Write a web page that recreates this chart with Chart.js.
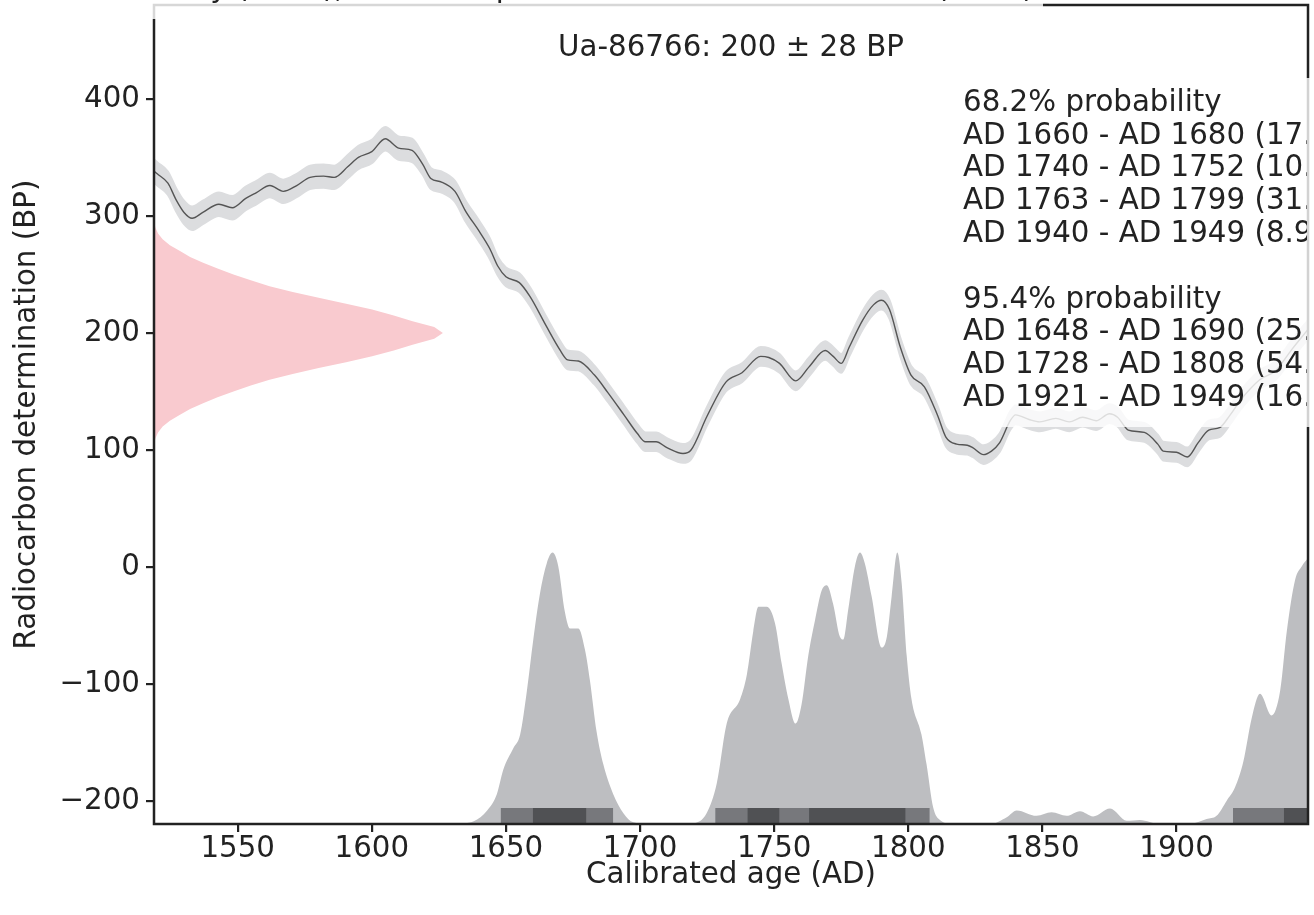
<!DOCTYPE html>
<html lang="en">
<head>
<meta charset="UTF-8">
<title>Ua-86766 calibration</title>
<style>
  html, body { margin: 0; padding: 0; background: #fff; }
  #chart { display: block; }
</style>
</head>
<body>
<canvas id="chart" width="1314" height="915"></canvas>
<script src="https://cdn.jsdelivr.net/npm/chart.js@4"></script>
<script>
// calibration curve section (cal AD vs 14C BP)
var curveYears = [1519,1520,1524,1527,1530,1533,1537,1543,1548,1553,1557,1562,1567,1572,1577,1582,1586,1591,1595,1600,
  1605,1610,1615,1619,1622,1626,1631,1635,1640,1644,1647,1650,1655,1659,1665,1670,1673,1677,1683,1688,
  1694,1699,1702,1706,1710,1716,1719,1725,1732,1738,1745,1748,1752,1758,1763,1769,1772,1775,1778,1783,
  1787,1790,1793,1797,1801,1806,1811,1814,1818,1822,1824,1828,1831,1834,1838,1840,1845,1849,1855,1860,
  1865,1870,1875,1878,1882,1888,1893,1895,1900,1904,1908,1912,1916,1920,1924,1931,1937,1943,1949];
var curveBP = [338,336,328,314,303,298,303,310,307,315,320,326,321,326,333,334,333,342,350,355,
  366,358,356,344,332,329,321,304,287,272,257,248,243,231,206,186,177,176,164,149,
  130,114,107,107,102,97,100,129,158,166,180,179,174,159,171,185,180,174,188,211,
  224,228,220,188,164,154,129,111,105,104,102,96,99,106,125,130,126,124,127,124,
  128,125,131,128,117,115,105,99,98,94,106,117,119,130,143,160,168,186,203];
var curveErr = [10,10,10,10,10,10,10,10,10,10,10,10,10,10,10,10,10,10,10,10,
  10,10,10,9,9,9,9,9,9,9,8,8,8,8,8,8,8,8,8,8,
  8,8,8,8,8,8,8,8,8,8,8,8,8,8,8,8,8,8,8,8,
  8,8,8,8,8,8,8,8,8,8,8,8,8,8,8,8,8,8,8,8,
  8,8,8,8,8,8,8,8,8,8,8,8,8,8,8,8,8,8,8];

// measured date 200 +/- 28 BP, relative density
var dateBP = [104,110,115,120,125,130,135,140,145,150,155,160,165,170,175,180,185,190,195,200,
  205,210,215,220,225,230,235,240,245,250,255,260,265,270,275,280,285,290,296];
var dateP = [0,0.005,0.014,0.03,0.055,0.09,0.125,0.17,0.22,0.275,0.335,0.40,0.48,0.57,0.665,0.755,0.83,0.895,0.97,1,
  0.97,0.895,0.83,0.755,0.665,0.57,0.48,0.40,0.335,0.275,0.22,0.17,0.125,0.09,0.055,0.03,0.014,0.005,0];

// calibrated age distribution, relative to its peak
var probYears = [1519,1630,1634,1638,1643,1646.6,1649,1652.8,1655.3,1657.8,1660.2,1662.7,1665.2,1667.4,1669.5,
  1672,1673.9,1677,1679.5,1681.3,1683.8,1686.3,1690,1693.8,1697.5,1702,1710,1716,1720,1724.8,
  1728.6,1732.3,1737.3,1739.8,1742.2,1744.1,1747.2,1750.3,1752.8,1755.3,1758,1760.2,1762.7,1765.2,1767.7,
  1769.6,1772,1774.5,1775.8,1777.6,1780.1,1782,1783.8,1786.3,1790.1,1792,1793.8,1795.9,1797.5,1799.4,
  1801.2,1804.9,1806.8,1809.3,1811.8,1816.7,1830.5,1836.7,1840.4,1847.8,1853.4,1859,1864,1868.9,1875.2,
  1881.4,1886.3,1893.8,1905,1911.2,1914.9,1918.7,1921.8,1924.9,1928,1931.1,1935.4,1938.6,1941.1,1944.2,
  1946.7,1949];
var probP = [0,0,0.002,0.01,0.05,0.11,0.20,0.28,0.33,0.49,0.68,0.85,0.96,1.0,0.95,
  0.78,0.72,0.72,0.64,0.53,0.34,0.22,0.11,0.04,0.006,0.002,0.002,0,0.003,0.04,
  0.15,0.37,0.46,0.55,0.71,0.80,0.80,0.74,0.59,0.46,0.37,0.44,0.62,0.75,0.86,
  0.88,0.81,0.69,0.68,0.79,0.95,1.0,0.96,0.84,0.65,0.69,0.84,1.0,0.89,0.62,
  0.46,0.33,0.22,0.06,0.015,0,0,0.025,0.05,0.03,0.043,0.03,0.047,0.028,0.057,
  0.012,0.015,0,0,0.018,0.03,0.086,0.135,0.23,0.39,0.48,0.40,0.49,0.71,0.90,
  0.95,0.98];

// highest probability ranges
var ranges68 = [[1660,1680],[1740,1752],[1763,1799],[1940,1949]];
var ranges95 = [[1648,1690],[1728,1808],[1921,1949]];
var rangeLines = ['68.2% probability', 'AD 1660 - AD 1680 (17.', 'AD 1740 - AD 1752 (10.',
  'AD 1763 - AD 1799 (31.', 'AD 1940 - AD 1949 (8.9', '', '95.4% probability',
  'AD 1648 - AD 1690 (25.', 'AD 1728 - AD 1808 (54.', 'AD 1921 - AD 1949 (16.'];

var sampleLabel = 'Ua-86766: 200 \u00b1 28 BP';
var figureTitle = 'OxCal v4.4.4 Bronk Ramsey (2021); r:5 Atmospheric data from Reimer et al (2020)';

var xTicks = [1550,1600,1650,1700,1750,1800,1850,1900];
var yTicks = [-200,-100,0,100,200,300,400];

// axis limits and how the distributions are laid on the axes
var xMin = 1518.8, xMax = 1949;
var yMin = -219.7, yMax = 480.3;
var dateWidth = 107.7;      // years at the peak of the date density
var probHeight = 232;       // BP units at the peak of the calibrated density
var barTop = -206;

var bandColor = '#dcdddf';
var fontSize = 29.3;

var calMean = curveYears.map(function (t, i) { return {x: t, y: curveBP[i]}; });
var calUp = curveYears.map(function (t, i) { return {x: t, y: curveBP[i] + curveErr[i]}; });
var calLo = curveYears.map(function (t, i) { return {x: t, y: curveBP[i] - curveErr[i]}; });
var dateData = dateBP.map(function (b, i) { return {x: xMin + dateWidth * dateP[i], y: b}; });
var probData = probYears.map(function (t, i) { return {x: t, y: yMin + probHeight * probP[i]}; });

function barSet(r, color) {
  return {
    data: [{x: r[0], y: barTop}, {x: r[1], y: barTop}],
    borderWidth: 0, pointRadius: 0, fill: 'start', backgroundColor: color
  };
}

var datasets = [
  {data: calMean, borderColor: '#555', borderWidth: 1.4, pointRadius: 0, fill: false, cubicInterpolationMode: 'monotone'},
  {data: calUp, borderColor: bandColor, borderWidth: 2, pointRadius: 0, fill: false, cubicInterpolationMode: 'monotone'},
  {data: calLo, borderColor: bandColor, borderWidth: 2, pointRadius: 0, fill: '-1', backgroundColor: bandColor, cubicInterpolationMode: 'monotone'},
  {data: dateData, indexAxis: 'y', borderWidth: 0, pointRadius: 0, fill: {value: xMin}, backgroundColor: '#f9cacf', tension: 0}
];
ranges68.forEach(function (r) { datasets.push(barSet(r, '#505154')); });
ranges95.forEach(function (r) { datasets.push(barSet(r, '#77787c')); });
datasets.push({data: probData, borderWidth: 0, pointRadius: 0, fill: 'start', backgroundColor: '#bdbec1', cubicInterpolationMode: 'monotone'});

var overlay = {
  id: 'overlay',
  afterDatasetsDraw: function (chart) {
    var a = chart.chartArea, ctx = chart.ctx;
    ctx.save();
    ctx.strokeStyle = '#222';
    ctx.lineWidth = 2.5;
    ctx.strokeRect(a.left, a.top, a.right - a.left, a.bottom - a.top);
    ctx.restore();
  },
  afterDraw: function (chart) {
    var a = chart.chartArea, ctx = chart.ctx;
    ctx.save();
    ctx.font = fontSize + 'px "DejaVu Sans"';
    // figure title box, mostly cut off above
    ctx.fillStyle = 'rgba(255,255,255,0.82)';
    ctx.fillRect(a.left - 4, 0, 893, 19);
    ctx.fillStyle = '#222';
    ctx.textAlign = 'right';
    ctx.textBaseline = 'alphabetic';
    ctx.fillText(figureTitle, 1034, -3);
    // sample name
    ctx.textAlign = 'center';
    ctx.fillText(sampleLabel, (a.left + a.right) / 2, a.top + 51);
    // ranges legend
    ctx.fillStyle = 'rgba(255,255,255,0.8)';
    ctx.fillRect(a.right - 353, 78, 360, 349);
    ctx.beginPath();
    ctx.rect(0, 0, a.right - 1, chart.height);
    ctx.clip();
    ctx.fillStyle = '#222';
    ctx.textAlign = 'left';
    rangeLines.forEach(function (t, i) {
      ctx.fillText(t, a.right - 345, 110.7 + i * 32.8);
    });
    ctx.restore();
  }
};

Chart.defaults.font.family = "'DejaVu Sans', sans-serif";
Chart.defaults.font.size = fontSize;
Chart.defaults.color = '#222';

new Chart(document.getElementById('chart'), {
  type: 'line',
  data: {datasets: datasets},
  options: {
    responsive: false,
    animation: false,
    devicePixelRatio: 1,
    layout: {padding: {top: 5, right: 6, left: 0, bottom: 0}},
    plugins: {legend: {display: false}, tooltip: {enabled: false}},
    scales: {
      x: {
        type: 'linear', min: xMin, max: xMax,
        afterBuildTicks: function (s) { s.ticks = xTicks.map(function (v) { return {value: v}; }); },
        afterFit: function (s) { s.height = 91; s.paddingLeft = 0; s.paddingRight = 0; },
        grid: {drawOnChartArea: false, drawTicks: true, tickLength: 8, lineWidth: 2.2, color: '#222'},
        border: {display: false},
        ticks: {padding: 0, maxRotation: 0, autoSkip: false, color: '#222', callback: function (v) { return String(v); }},
        title: {display: true, text: 'Calibrated age (AD)', color: '#222', padding: {top: 0, bottom: 22}}
      },
      y: {
        type: 'linear', min: yMin, max: yMax,
        afterBuildTicks: function (s) { s.ticks = yTicks.map(function (v) { return {value: v}; }); },
        afterFit: function (s) { s.width = 154; s.paddingTop = 0; s.paddingBottom = 0; },
        grid: {drawOnChartArea: false, drawTicks: true, tickLength: 8, lineWidth: 2.2, color: '#222'},
        border: {display: false},
        ticks: {padding: 6, autoSkip: false, color: '#222', callback: function (v) { return v < 0 ? '\u2212' + Math.abs(v) : String(v); }},
        title: {display: true, text: 'Radiocarbon determination (BP)', color: '#222', padding: {top: 10, bottom: 0}}
      }
    }
  },
  plugins: [overlay]
});
</script>
</body>
</html>
